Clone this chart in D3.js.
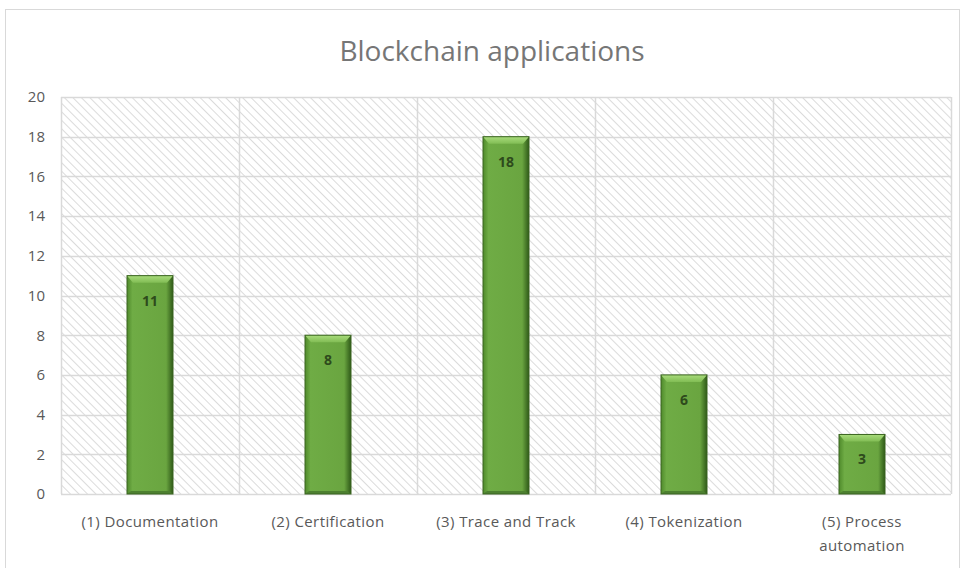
<!DOCTYPE html>
<meta charset="utf-8">
<style>
  body { margin: 0; background: #fff; }
  .tick text { font-family: "Open Sans", sans-serif; font-size: 15px; fill: #595959; }
  .x-axis .tick text { letter-spacing: 0.4px; }
  .title { font-family: "Open Sans", sans-serif; font-size: 28px; fill: #767676; }
  .bar-label { font-family: "Open Sans", sans-serif; font-size: 14px; font-weight: bold; fill: #2e4a1c; }
</style>
<body></body>
<script src="https://d3js.org/d3.v7.min.js"></script>
<script>
var categories = ['(1) Documentation', '(2) Certification', '(3) Trace and Track', '(4) Tokenization', '(5) Process automation'];
var values = [11, 8, 18, 6, 3];
var yTicks = [0, 2, 4, 6, 8, 10, 12, 14, 16, 18, 20];

var width = 965, height = 568;
var margin = {top: 97, right: 14, bottom: 74, left: 61};

var svg = d3.select('body').append('svg')
    .attr('width', width)
    .attr('height', height);

var defs = svg.append('defs');

// diagonal hatch for the plot area
var hatch = defs.append('pattern')
    .attr('id', 'hatch')
    .attr('patternUnits', 'userSpaceOnUse')
    .attr('width', 6).attr('height', 6)
    .attr('patternTransform', 'rotate(-45)');
hatch.append('rect').attr('width', 6).attr('height', 6).attr('fill', '#fff');
hatch.append('line')
    .attr('x1', 0).attr('y1', 0).attr('x2', 0).attr('y2', 6)
    .attr('stroke', '#c4c4c4').attr('stroke-width', 1.2);

// bar gradient (bevel look)
var gx = defs.append('linearGradient').attr('id', 'barH').attr('x1', 0).attr('x2', 1).attr('y1', 0).attr('y2', 0);
gx.append('stop').attr('offset', '0%').attr('stop-color', '#4f8a2b');
gx.append('stop').attr('offset', '12%').attr('stop-color', '#6fac45');
gx.append('stop').attr('offset', '85%').attr('stop-color', '#6aa540');
gx.append('stop').attr('offset', '100%').attr('stop-color', '#2f5a18');

var gt = defs.append('linearGradient').attr('id', 'barTop').attr('x1', 0).attr('x2', 0).attr('y1', 0).attr('y2', 1);
gt.append('stop').attr('offset', '0%').attr('stop-color', '#a9dc7c');
gt.append('stop').attr('offset', '100%').attr('stop-color', '#82bd55');

// outer chart border
svg.append('rect')
    .attr('x', 5.5).attr('y', 9.5)
    .attr('width', 954).attr('height', 570)
    .attr('fill', 'none')
    .attr('stroke', '#d9d9d9');

var x = d3.scaleBand()
    .domain(categories)
    .range([margin.left, width - margin.right])
    .paddingInner(0).paddingOuter(0);

var y = d3.scaleLinear()
    .domain([0, 20])
    .range([height - margin.bottom, margin.top]);

var plot = svg.append('g');

plot.append('rect')
    .attr('x', margin.left).attr('y', margin.top)
    .attr('width', width - margin.left - margin.right)
    .attr('height', y(0) - y(20))
    .attr('fill', 'url(#hatch)');

// horizontal gridlines
plot.append('g').selectAll('line')
    .data(yTicks)
    .enter().append('line')
    .attr('x1', margin.left).attr('x2', width - margin.right)
    .attr('y1', d => Math.round(y(d)) + 0.5).attr('y2', d => Math.round(y(d)) + 0.5)
    .attr('stroke', '#d9d9d9').attr('stroke-width', 1.5);

// vertical gridlines (category borders)
var edges = categories.map(c => x(c)).concat([x(categories[4]) + x.bandwidth()]);
plot.append('g').selectAll('line')
    .data(edges)
    .enter().append('line')
    .attr('x1', d => Math.round(d) + 0.5).attr('x2', d => Math.round(d) + 0.5)
    .attr('y1', margin.top).attr('y2', y(0))
    .attr('stroke', '#d9d9d9').attr('stroke-width', 1.5);

// y axis
var yAxis = svg.append('g')
    .attr('transform', 'translate(' + (margin.left - 16) + ',0)')
    .call(d3.axisLeft(y).tickValues(yTicks).tickSize(0).tickPadding(0));
yAxis.select('.domain').remove();

// x axis
var xAxis = svg.append('g')
    .attr('class', 'x-axis')
    .attr('transform', 'translate(0,' + y(0) + ')')
    .call(d3.axisBottom(x).tickSize(0).tickPadding(22));
xAxis.select('.domain').remove();
xAxis.selectAll('.tick text').each(function(d) {
    var t = d3.select(this);
    if (d === '(5) Process automation') {
        t.text(null);
        t.append('tspan').attr('x', 0).attr('dy', '0.71em').text('(5) Process');
        t.append('tspan').attr('x', 0).attr('dy', 24).text('automation');
        t.attr('dy', null);
    }
});

// bars
var barW = 46;
var bars = svg.append('g').selectAll('g.bar')
    .data(values)
    .enter().append('g')
    .attr('class', 'bar')
    .attr('transform', (d, i) => 'translate(' + (x(categories[i]) + x.bandwidth() / 2 - barW / 2) + ',0)');

bars.append('rect')
    .attr('x', 0).attr('width', barW)
    .attr('y', d => y(d)).attr('height', d => y(0) - y(d))
    .attr('fill', 'url(#barH)');

// top bevel (lighter)
bars.append('path')
    .attr('d', d => {
        var t = y(d);
        return 'M0,' + t + 'L' + barW + ',' + t + 'L' + (barW - 6) + ',' + (t + 7) + 'L6,' + (t + 7) + 'Z';
    })
    .attr('fill', 'url(#barTop)');

// bottom bevel (darker)
bars.append('path')
    .attr('d', d => {
        var b = y(0);
        return 'M0,' + b + 'L' + barW + ',' + b + 'L' + (barW - 4) + ',' + (b - 3) + 'L4,' + (b - 3) + 'Z';
    })
    .attr('fill', '#4d8030');

bars.append('rect')
    .attr('x', 0).attr('width', barW)
    .attr('y', d => y(d)).attr('height', d => y(0) - y(d))
    .attr('fill', 'none')
    .attr('stroke', '#3a6420').attr('stroke-width', 1);

bars.append('text')
    .attr('class', 'bar-label')
    .attr('x', barW / 2)
    .attr('y', d => y(d) + 30)
    .attr('text-anchor', 'middle')
    .text(d => d);

// title
svg.append('text')
    .attr('class', 'title')
    .attr('x', 492).attr('y', 61)
    .attr('text-anchor', 'middle')
    .text('Blockchain applications');
</script>
